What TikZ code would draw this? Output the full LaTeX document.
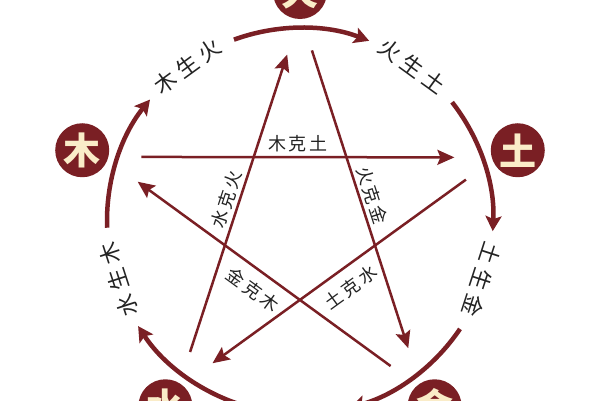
\documentclass[tikz,border=0pt]{standalone}
\usepackage{fontspec}
\newfontfamily\cjk{Noto Sans CJK SC}
\newfontfamily\cjkwide{Noto Sans CJK SC}[LetterSpace=24]
\newfontfamily\cjkmid{Noto Sans CJK SC}[LetterSpace=16]
\usetikzlibrary{arrows.meta}
\definecolor{wuxing}{RGB}{122,31,36}
\definecolor{cream}{RGB}{250,236,200}
\definecolor{ink}{RGB}{35,35,35}

\begin{document}
\begin{tikzpicture}[x=1pt,y=1pt,
    elem/.style={circle,fill=wuxing,minimum size=54pt,inner sep=0pt,text=cream,
        font=\cjk\bfseries\fontsize{37}{37}\selectfont},
    sheng/.style={wuxing,line width=4.5pt,-{Stealth[length=15pt,width=16pt,inset=3pt]}},
    ke/.style={wuxing,line width=2.5pt,-{Stealth[length=17pt,width=15pt,inset=3pt]}},
    shenglabel/.style={text=ink,inner sep=0pt,font=\cjkwide\fontsize{22}{22}\selectfont},
    kelabel/.style={text=ink,inner sep=0pt,font=\cjkmid\fontsize{18}{18}\selectfont}]
  \fill[white] (-300,-179) rectangle (300,221);
  \useasboundingbox (-300,-179) rectangle (300,221);

  % Elements
  \foreach \a/\name/\el in {90/huo/火,18/tu/土,-54/jin/金,-126/shui/水,162/mu/木}{
      \node[elem] (\name) at (\a:229) {\el};
    }

  % Generating cycle
  \foreach \a in {90,18,-54,-126,162}{
      \draw[sheng] (\a+20:193) arc[start angle=\a+20,end angle=\a-21,radius=193];
    }
  \foreach \a/\txt in {126/木生火,54/火生土,-18/土生金,198/水生木}{
      \node[shenglabel,rotate=\a-90] (sheng\a) at (\a:191) {\txt};
    }

  % Controlling cycle
  \foreach \k/\txt/\anc/\gap in {0/火克金/south/3pt,1/土克水/north/10pt,2/金克木/north/10pt,3/水克火/south/3pt,4/木克土/south/4pt}{
      \def\from{86-\k*72}
      \def\to{94.4-\k*72-144}
      \coordinate (ke\k-s) at (\from:171);
      \coordinate (ke\k-e) at (\to:167);
      \draw[ke] (ke\k-s) -- node[kelabel,sloped,anchor=\anc,inner sep=\gap] (kename\k) {\txt} (ke\k-e);
    }
\end{tikzpicture}
\end{document}
